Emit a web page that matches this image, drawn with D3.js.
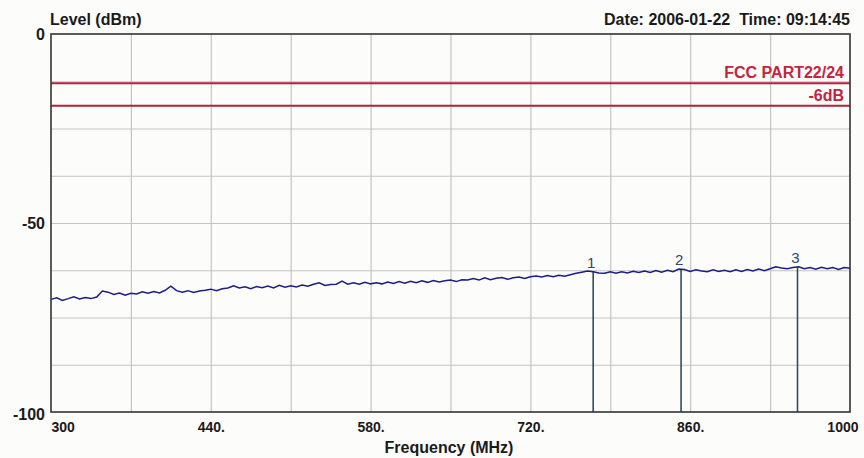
<!DOCTYPE html>
<html>
<head>
<meta charset="utf-8">
<script src="https://cdn.jsdelivr.net/npm/d3@7"></script>
<style>
  html,body{margin:0;padding:0;background:#fcfcfa;}
  svg{display:block;font-family:"Liberation Sans",Arial,sans-serif;}
</style>
</head>
<body>
<svg id="chart" width="864" height="458"></svg>
<script>
// ---- data ----
const freqStart = 300, freqStep = 5;
const levels = [
  -70.2,-69.8,-70.5,-70.0,-69.5,-70.1,-69.7,-70.0,-69.6,-68.0,
  -68.3,-68.9,-68.5,-69.1,-68.6,-68.8,-68.2,-68.6,-68.1,-68.5,
  -67.8,-66.7,-67.9,-68.3,-67.9,-68.4,-68.0,-67.8,-67.5,-67.9,
  -67.4,-67.2,-66.6,-67.2,-66.9,-67.4,-66.8,-67.1,-66.7,-67.2,
  -66.5,-67.0,-66.6,-66.9,-66.4,-66.7,-66.2,-65.8,-66.5,-66.3,
  -66.2,-65.4,-66.2,-65.8,-66.2,-65.7,-66.1,-65.8,-66.1,-65.6,
  -66.0,-65.5,-65.9,-65.4,-65.8,-65.3,-65.7,-65.2,-65.6,-65.3,
  -65.1,-65.5,-65.0,-65.1,-64.7,-65.1,-64.5,-65.0,-64.6,-64.4,
  -64.9,-64.5,-64.3,-64.7,-64.2,-64.0,-64.3,-63.9,-64.2,-63.8,
  -64.1,-63.7,-63.3,-63.0,-62.7,-62.9,-63.2,-63.3,-62.9,-63.3,
  -62.9,-63.2,-62.8,-63.1,-62.7,-63.1,-62.6,-63.0,-62.5,-62.9,
  -62.2,-62.3,-62.8,-62.4,-62.7,-62.9,-62.4,-62.8,-62.5,-62.9,
  -62.4,-62.8,-62.3,-62.7,-62.2,-62.6,-62.1,-61.6,-61.9,-62.1,
  -61.8,-61.6,-62.1,-61.8,-62.2,-61.7,-62.1,-61.8,-62.3,-61.8,
  -62.0
];
const trace = levels.map((v, i) => ({f: freqStart + i * freqStep, v}));

const markerLabels = ["1", "2", "3"];
const markerFreqs = [775, 852, 954];
const markerLevels = [-62.9, -62.3, -61.7];

const limitNames = ["FCC PART22/24", "-6dB"];
const limitLevels = [-13, -19];

const xTickValues = [300, 440, 580, 720, 860, 1000];
const xTickLabels = ["300", "440.", "580.", "720.", "860.", "1000"];
const xGridValues = [370, 440, 510, 580, 650, 720, 790, 860, 930];
const yTickValues = [0, -50, -100];
const yTickLabels = ["0", "-50", "-100"];
const yGridValues = [-12.5, -25, -37.5, -50, -62.5, -75, -87.5];

const yTitle = "Level (dBm)";
const xTitle = "Frequency (MHz)";
const dateText = "Date: 2006-01-22  Time: 09:14:45";

// ---- layout ----
const L = 51, R = 850, T = 34, B = 412;
const svg = d3.select("#chart");
const x = d3.scaleLinear().domain([300, 1000]).range([L, R]);
const y = d3.scaleLinear().domain([-100, 0]).range([B, T]);

// grid
svg.append("g").attr("transform", `translate(0,${B})`)
  .call(d3.axisBottom(x).tickValues(xGridValues).tickSize(-(B - T)).tickFormat(""))
  .call(g => g.select(".domain").remove())
  .call(g => g.selectAll("line").attr("stroke", "#c4c4c4").attr("stroke-width", 1.2));
svg.append("g").attr("transform", `translate(${L},0)`)
  .call(d3.axisLeft(y).tickValues(yGridValues).tickSize(-(R - L)).tickFormat(""))
  .call(g => g.select(".domain").remove())
  .call(g => g.selectAll("line").attr("stroke", "#c4c4c4").attr("stroke-width", 1.2));

// limit lines
svg.append("g").selectAll("line").data(limitLevels).join("line")
  .attr("x1", L).attr("x2", R)
  .attr("y1", d => y(d)).attr("y2", d => y(d))
  .attr("stroke", "#b3213b").attr("stroke-width", 2);
svg.append("g").selectAll("text").data(limitNames).join("text")
  .attr("x", 844)
  .attr("y", (d, i) => y(limitLevels[i]) - 5)
  .attr("text-anchor", "end")
  .attr("font-size", 16).attr("font-weight", "bold")
  .attr("fill", "#c4243e")
  .text(d => d);

// marker lines
svg.append("g").selectAll("line").data(markerFreqs).join("line")
  .attr("x1", d => x(d)).attr("x2", d => x(d))
  .attr("y1", (d, i) => y(markerLevels[i])).attr("y2", B)
  .attr("stroke", "#2f4f60").attr("stroke-width", 1.6);

// trace
svg.append("path").datum(trace)
  .attr("d", d3.line().x(d => x(d.f)).y(d => y(d.v)))
  .attr("fill", "none").attr("stroke", "#1c1c88").attr("stroke-width", 1.5);

// marker labels
svg.append("g").selectAll("text").data(markerLabels).join("text")
  .attr("x", (d, i) => x(markerFreqs[i]) - 2)
  .attr("y", (d, i) => y(markerLevels[i]) - 4)
  .attr("text-anchor", "middle")
  .attr("font-size", 15)
  .attr("fill", "#2f4666")
  .text(d => d);

// frame
svg.append("rect").attr("x", L).attr("y", T).attr("width", R - L).attr("height", B - T)
  .attr("fill", "none").attr("stroke", "#333").attr("stroke-width", 1.6);

// x axis labels
const xAxis = svg.append("g").attr("transform", `translate(0,${B})`)
  .call(d3.axisBottom(x).tickValues(xTickValues).tickSize(0).tickPadding(0)
    .tickFormat((d, i) => xTickLabels[i]));
xAxis.select(".domain").remove();
xAxis.selectAll("text")
  .attr("font-family", "'Liberation Sans',Arial,sans-serif")
  .attr("font-size", 14).attr("font-weight", "bold").attr("fill", "#1a1a1a")
  .attr("dy", 0).attr("y", 20)
  .attr("text-anchor", (d, i) => i === 0 ? "start" : (i === xTickValues.length - 1 ? "end" : "middle"))
  .attr("dx", (d, i) => i === xTickValues.length - 1 ? 8 : 0);

// y axis labels
const yAxis = svg.append("g").attr("transform", `translate(${L},0)`)
  .call(d3.axisLeft(y).tickValues(yTickValues).tickSize(0).tickPadding(6)
    .tickFormat((d, i) => yTickLabels[i]));
yAxis.select(".domain").remove();
yAxis.selectAll("text")
  .attr("font-family", "'Liberation Sans',Arial,sans-serif")
  .attr("font-size", 16).attr("font-weight", "bold").attr("fill", "#1a1a1a")
  .attr("dy", "0.32em")
  .attr("transform", (d, i) => i === yTickValues.length - 1 ? "translate(0,2)" : null);

// titles
svg.append("text").attr("x", 50).attr("y", 25)
  .attr("font-size", 16).attr("font-weight", "bold").attr("fill", "#1a1a1a").text(yTitle);
svg.append("text").attr("x", 449).attr("y", 453).attr("text-anchor", "middle")
  .attr("font-size", 16).attr("font-weight", "bold").attr("fill", "#1a1a1a").text(xTitle);
svg.append("text").attr("x", 850).attr("y", 25).attr("text-anchor", "end")
  .attr("font-size", 16).attr("font-weight", "bold").attr("fill", "#1a1a1a")
  .attr("xml:space", "preserve").style("white-space", "pre").text(dateText);
</script>
</body>
</html>
